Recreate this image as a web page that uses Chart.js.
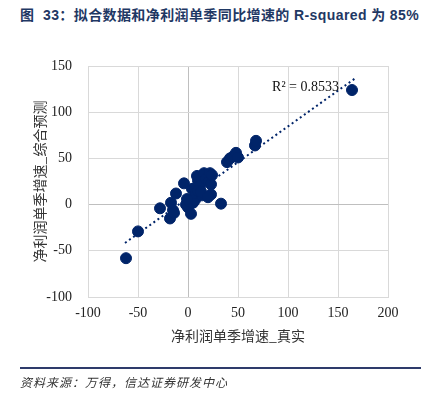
<!DOCTYPE html>
<html>
<head>
<meta charset="utf-8">
<script src="https://cdn.jsdelivr.net/npm/chart.js@4/dist/chart.umd.min.js"></script>
<style>
  body { margin: 0; background: #fff; width: 421px; height: 395px; overflow: hidden; position: relative; }
  #titulo { position: absolute; left: 20px; top: 4px; font-family: "Liberation Sans", "Noto Sans CJK SC", sans-serif; font-size: 14px; letter-spacing: 0.4px; font-weight: bold; color: #1f3864; white-space: nowrap; }
  #grafico { position: absolute; left: 0; top: 0; }
  #linea { position: absolute; left: 20px; right: 0; top: 367px; height: 2px; background: #2e3b6b; }
  #fuente { position: absolute; left: 20px; top: 373px; font-family: "Noto Sans CJK SC", sans-serif; font-size: 12px; font-style: italic; letter-spacing: 1px; color: #333; white-space: nowrap; }
</style>
</head>
<body>
<div id="titulo">图&nbsp;&nbsp;33：拟合数据和净利润单季同比增速的 R-squared 为 85%</div>
<canvas id="grafico" width="421" height="395"></canvas>
<div id="linea"></div>
<div id="fuente">资料来源：万得，信达证券研发中心</div>
<script>
// datos
const realX = [-62, -50, -28, -18, -17, -15, -14, -12, -4, -2, 0, 2, 3, 4, 5, 6, 7, 8, 10, 9, 12, 14, 16, 18, 21, 22, 23, 23, 24, 33, 39, 42, 45, 48, 50, 67, 68, 164, -1, 10, 13, 20];
const prediccionY = [-58, -29, -4, -15, 2, -6, -9, 12, 23, 0, -3, 3, -10, 17, 2, 8, 5, 12, 26, 31, 20, 10, 34, 28, 25, 34, 22, 11, 32, 1, 46, 50, 52, 56, 51, 64, 69, 124, 6, 15, 14, 8];

// linea de tendencia (extremos)
const tendenciaX = [-63, 167];
const tendenciaY = [-41.5, 136.5];

const xTicks = [-100, -50, 0, 50, 100, 150, 200];
const yTicks = [-100, -50, 0, 50, 100, 150];
const textoR2 = "R² = 0.8533";

const azul = "#002469";
const gris = "#d9d9d9";
const grisCero = "#bfbfbf";

const puntos = realX.map((x, i) => ({ x: x, y: prediccionY[i] }));
const tendencia = tendenciaX.map((x, i) => ({ x: x, y: tendenciaY[i] }));

const etiquetaR2 = {
  id: "etiquetaR2",
  afterDatasetsDraw(chart) {
    const ctx = chart.ctx;
    const x = chart.scales.x.getPixelForValue(151);
    const y = chart.scales.y.getPixelForValue(127);
    ctx.save();
    ctx.font = "14px 'Liberation Serif'";
    ctx.fillStyle = "#111";
    ctx.textAlign = "right";
    ctx.textBaseline = "middle";
    ctx.fillText(textoR2, x, y);
    ctx.restore();
  }
};

const ctx = document.getElementById("grafico");

let chart = new Chart(ctx, {
  type: "scatter",
  data: {
    datasets: [
      {
        label: "puntos",
        data: puntos,
        backgroundColor: azul,
        borderColor: azul,
        pointRadius: 5.5,
        pointHoverRadius: 5.5,
        order: 1
      },
      {
        label: "tendencia",
        type: "line",
        data: tendencia,
        borderColor: azul,
        borderWidth: 2,
        borderDash: [2, 3],
        pointRadius: 0,
        fill: false,
        order: 2
      }
    ]
  },
  options: {
    responsive: false,
    animation: false,
    layout: { padding: { left: 0, right: 33, top: 66, bottom: 48 } },
    plugins: { legend: { display: false }, tooltip: { enabled: false } },
    scales: {
      x: {
        type: "linear",
        min: -100,
        max: 200,
        afterBuildTicks: (s) => { s.ticks = xTicks.map((v) => ({ value: v })); },
        afterFit: (s) => { s.height = 50; },
        ticks: { font: { family: "Liberation Serif", size: 14 }, color: "#222", padding: 8 },
        grid: { color: (c) => (c.tick && c.tick.value === 0 ? grisCero : gris), drawTicks: false },
        border: { color: gris },
        title: { display: true, text: "净利润单季增速_真实", font: { family: "Noto Sans CJK SC", size: 14 }, color: "#333", padding: { top: 0, bottom: 3 } }
      },
      y: {
        type: "linear",
        min: -100,
        max: 150,
        afterBuildTicks: (s) => { s.ticks = yTicks.map((v) => ({ value: v })); },
        afterFit: (s) => { s.width = 88; },
        ticks: { font: { family: "Liberation Serif", size: 14 }, color: "#222", padding: 16 },
        grid: { color: (c) => (c.tick && c.tick.value === 0 ? grisCero : gris), drawTicks: false },
        border: { color: gris },
        title: { display: true, text: "净利润单季增速_综合预测", font: { family: "Noto Sans CJK SC", size: 14 }, color: "#333", padding: { top: 31, bottom: 0 } }
      }
    }
  },
  plugins: [etiquetaR2]
});
</script>
</body>
</html>
